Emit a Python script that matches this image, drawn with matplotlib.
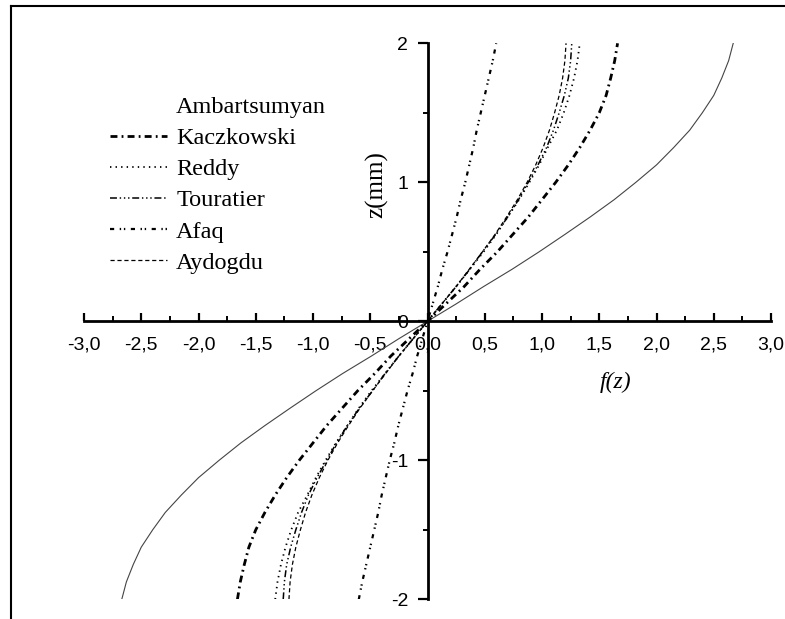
import matplotlib
matplotlib.use("Agg")
import matplotlib.pyplot as plt
from matplotlib.lines import Line2D
from matplotlib.ticker import FixedLocator

# ---------------- data ----------------
z = [-2.0, -1.875, -1.75, -1.625, -1.5, -1.375, -1.25, -1.125, -1.0,
     -0.875, -0.75, -0.625, -0.5, -0.375, -0.25, -0.125, 0.0,
     0.125, 0.25, 0.375, 0.5, 0.625, 0.75, 0.875, 1.0,
     1.125, 1.25, 1.375, 1.5, 1.625, 1.75, 1.875, 2.0]

ambartsumyan = [-2.67, -2.63, -2.57, -2.50, -2.40, -2.29, -2.15, -2.00, -1.82,
                -1.63, -1.42, -1.20, -0.975, -0.74, -0.49, -0.25, 0.0,
                0.25, 0.49, 0.74, 0.975, 1.20, 1.42, 1.63, 1.82,
                2.00, 2.15, 2.29, 2.40, 2.50, 2.57, 2.63, 2.67]
kaczkowski = [-1.66, -1.635, -1.60, -1.56, -1.50, -1.42, -1.33, -1.23, -1.12,
              -1.00, -0.88, -0.745, -0.61, -0.46, -0.32, -0.16, 0.0,
              0.16, 0.32, 0.46, 0.61, 0.745, 0.88, 1.00, 1.12,
              1.23, 1.33, 1.42, 1.50, 1.56, 1.60, 1.635, 1.66]
reddy = [-1.33, -1.31, -1.28, -1.24, -1.19, -1.13, -1.05, -0.975, -0.89,
         -0.80, -0.70, -0.60, -0.49, -0.37, -0.25, -0.125, 0.0,
         0.125, 0.25, 0.37, 0.49, 0.60, 0.70, 0.80, 0.89,
         0.975, 1.05, 1.13, 1.19, 1.24, 1.28, 1.31, 1.33]
touratier = [-1.26, -1.25, -1.23, -1.195, -1.15, -1.10, -1.04, -0.965, -0.88,
             -0.795, -0.70, -0.595, -0.48, -0.37, -0.25, -0.125, 0.0,
             0.125, 0.25, 0.37, 0.48, 0.595, 0.70, 0.795, 0.88,
             0.965, 1.04, 1.10, 1.15, 1.195, 1.23, 1.25, 1.26]
afaq = [-0.60, -0.57, -0.535, -0.50, -0.465, -0.43, -0.40, -0.365, -0.33,
        -0.29, -0.255, -0.215, -0.175, -0.13, -0.09, -0.045, 0.0,
        0.045, 0.09, 0.13, 0.175, 0.215, 0.255, 0.29, 0.33,
        0.365, 0.40, 0.43, 0.465, 0.50, 0.535, 0.57, 0.60]
aydogdu = [-1.21, -1.20, -1.18, -1.15, -1.11, -1.065, -1.01, -0.945, -0.87,
           -0.785, -0.69, -0.59, -0.48, -0.365, -0.25, -0.125, 0.0,
           0.125, 0.25, 0.365, 0.48, 0.59, 0.69, 0.785, 0.87,
           0.945, 1.01, 1.065, 1.11, 1.15, 1.18, 1.20, 1.21]

series_names = ["Ambartsumyan", "Kaczkowski", "Reddy", "Touratier", "Afaq", "Aydogdu"]

xtick_vals = [-3.0, -2.5, -2.0, -1.5, -1.0, -0.5, 0.0, 0.5, 1.0, 1.5, 2.0, 2.5, 3.0]
xtick_labels = ["-3,0", "-2,5", "-2,0", "-1,5", "-1,0", "-0,5", "0,0",
                "0,5", "1,0", "1,5", "2,0", "2,5", "3,0"]
xminor_vals = [-2.75, -2.25, -1.75, -1.25, -0.75, -0.25, 0.25, 0.75, 1.25, 1.75, 2.25, 2.75]
ytick_vals = [-2, -1, 0, 1, 2]
ytick_labels = ["-2", "-1", "0", "1", "2"]
yminor_vals = [-1.5, -0.5, 0.5, 1.5]

# ---------------- figure ----------------
plt.rcParams['lines.scale_dashes'] = False
W, H = 785, 619
fig = plt.figure(figsize=(W / 100, H / 100), dpi=100)
ax = fig.add_axes([84 / W, 1 - 599.3 / H, (771 - 84) / W, (599.3 - 43.3) / H])

styles = {
    "Ambartsumyan": dict(color="#444444", lw=0.8, ls="-"),
    "Kaczkowski": dict(color="black", lw=2.0, ls=(0, (5, 3, 1.3, 3))),
    "Reddy": dict(color="black", lw=1.3, ls=(0, (1, 3))),
    "Touratier": dict(color="black", lw=1.1, ls=(0, (5, 2, 1, 2, 1, 2, 1, 2))),
    "Afaq": dict(color="black", lw=1.6, ls=(0, (3, 4, 1, 2, 1, 4))),
    "Aydogdu": dict(color="black", lw=0.9, ls=(0, (3, 2))),
}
data = {
    "Ambartsumyan": ambartsumyan,
    "Kaczkowski": kaczkowski,
    "Reddy": reddy,
    "Touratier": touratier,
    "Afaq": afaq,
    "Aydogdu": aydogdu,
}
for name in series_names:
    ax.plot(data[name], z, **styles[name])

ax.set_xlim(-3, 3)
ax.set_ylim(-2, 2)

for s in ["top", "right"]:
    ax.spines[s].set_visible(False)
ax.spines["left"].set_position(("data", 0))
ax.spines["bottom"].set_position(("data", 0))
for s in ["left", "bottom"]:
    ax.spines[s].set_linewidth(2.0)

ax.xaxis.set_major_locator(FixedLocator(xtick_vals))
ax.xaxis.set_minor_locator(FixedLocator(xminor_vals))
ax.set_xticklabels(xtick_labels)
ax.yaxis.set_major_locator(FixedLocator(ytick_vals))
ax.yaxis.set_minor_locator(FixedLocator(yminor_vals))
ax.set_yticklabels(ytick_labels)

ax.tick_params(axis="x", which="major", direction="in", length=6, width=1.6, pad=11)
ax.tick_params(axis="x", which="minor", direction="in", length=3.5, width=1.4)
ax.tick_params(axis="y", which="major", direction="out", length=7, width=1.6, pad=7)
ax.tick_params(axis="y", which="minor", direction="out", length=3.5, width=1.4)
for lab in ax.get_xticklabels() + ax.get_yticklabels():
    lab.set_fontfamily("Liberation Sans")
    lab.set_fontsize(14)

# axis titles
fig.text(377 / W, 1 - 185 / H, "z(mm)", rotation=90, ha="center", va="center",
         family="Liberation Serif", size=18)
fig.text(616 / W, 1 - 382 / H, "f(z)", ha="center", va="center",
         family="Liberation Serif", style="italic", size=17)

# legend
handles = []
for name in series_names:
    if name == "Ambartsumyan":
        handles.append(Line2D([], [], color="none"))
    else:
        st = styles[name]
        handles.append(Line2D([], [], color=st["color"], lw=st["lw"], ls=st["ls"]))
leg = ax.legend(handles, series_names, loc="upper left", frameon=False,
                bbox_to_anchor=(110 / W, 1 - 96 / H), bbox_transform=fig.transFigure,
                borderpad=0, borderaxespad=0, handlelength=2.35, handletextpad=0.37,
                labelspacing=0.375, prop=dict(family="Liberation Serif", size=17.5))

# outer frame (top and left lines of the original border)
fig.add_artist(Line2D([11 / W, 1.0], [1 - 6 / H, 1 - 6 / H], color="black", lw=1.5,
                      transform=fig.transFigure))
fig.add_artist(Line2D([11 / W, 11 / W], [0.0, 1 - 6 / H], color="black", lw=1.5,
                      transform=fig.transFigure))

fig.savefig("out.png", dpi=100)
